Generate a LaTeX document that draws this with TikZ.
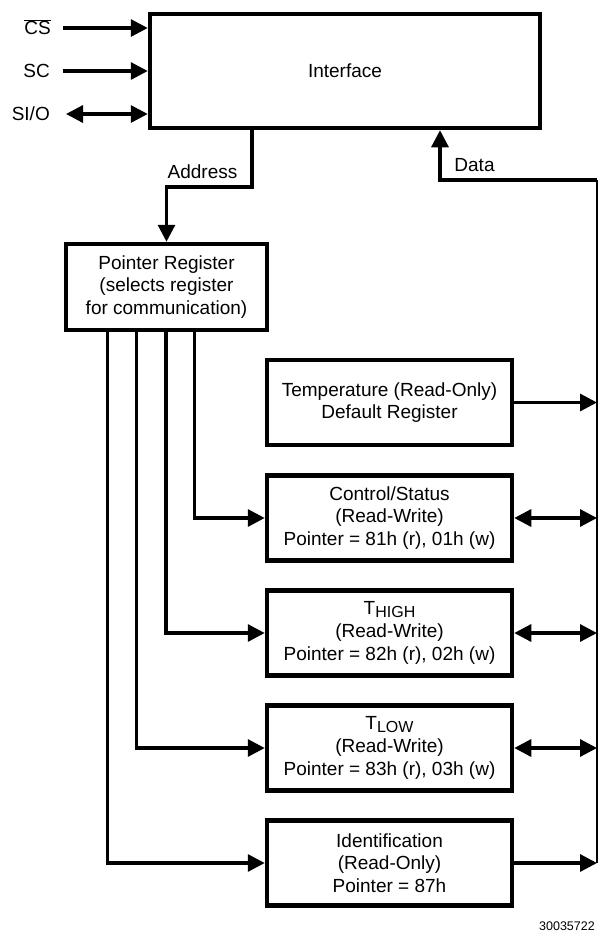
\documentclass[tikz,border=0pt]{standalone}
\usepackage{fontspec}
\setmainfont{Liberation Sans}
\usetikzlibrary{arrows.meta}
\begin{document}
\begin{tikzpicture}[x=1pt,y=-1pt,
  every node/.style={font=\fontsize{19}{22.7}\selectfont},
  blk/.style={draw,line width=4.5pt,inner sep=0pt,align=center,minimum width=245pt,minimum height=85pt},
  conn/.style={line width=3.2pt},
  bus/.style={line width=2.2pt},
  tip/.style={-{Triangle[length=17pt,width=17pt]}},
  dtip/.style={{Triangle[length=17pt,width=17pt]}-{Triangle[length=17pt,width=17pt]}},
  lbl/.style={inner sep=0pt}]
\useasboundingbox (0,0) rectangle (598,935);

% Interface
\node[blk,minimum width=390pt,minimum height=114pt] (iface) at (345,71) {Interface};

% Input labels
\node[lbl,anchor=base east] (cs) at (51,34.8) {$\overline{\hbox{CS}}$};
\node[lbl,anchor=base east] (sc) at (50,77.8) {SC};
\node[lbl,anchor=base east] (sio) at (50,120.8) {SI/O};
\coordinate (csS) at (63,28);
\coordinate (scS) at (63,71);
\coordinate (sioS) at (66,114);
\draw[conn,tip] (csS) -- (csS -| iface.west);
\draw[conn,tip] (scS) -- (scS -| iface.west);
\draw[conn,dtip] (sioS) -- (sioS -| iface.west);

% Pointer register
\node[blk,minimum width=201pt,minimum height=86pt] (ptr) at (166.5,287)
  {Pointer Register\\(selects register\\for communication)};

% Address
\coordinate (addr) at (166.5,187);
\node[lbl] (addrlbl) at (202.5,172) {Address};
\draw[conn,tip] ([xshift=-93pt]iface.south) |- (addr) -- (ptr.north);

% Registers
\node[blk] (temp) at (389.5,402.5) {Temperature (Read-Only)\\Default Register};
\node[blk] (ctrl) at (389.5,518) {Control/Status\\(Read-Write)\\Pointer = 81h (r), 01h (w)};
\node[blk] (thigh) at (389.5,633) {T\raisebox{-3pt}{\fontsize{16}{16}\selectfont HIGH}\\(Read-Write)\\Pointer = 82h (r), 02h (w)};
\node[blk] (tlow) at (389.5,748) {T\raisebox{-3pt}{\fontsize{16}{16}\selectfont LOW}\\(Read-Write)\\Pointer = 83h (r), 03h (w)};
\node[blk] (ident) at (389.5,863) {Identification\\(Read-Only)\\Pointer = 87h};

% Pointer branches
\draw[conn,tip] ([xshift=28pt]ptr.south) |- (ctrl.west);
\draw[conn,tip] ([xshift=-0.5pt]ptr.south) |- (thigh.west);
\draw[conn,tip] ([xshift=-30pt]ptr.south) |- (tlow.west);
\draw[conn,tip] ([xshift=-59pt]ptr.south) |- (ident.west);

% Data bus
\coordinate (dj) at (597,180);
\coordinate (busend) at (597,863);
\node[lbl] (datalbl) at (474.5,165) {Data};
\draw[conn,tip] (dj) -| ([xshift=95pt]iface.south);
\draw[bus] (dj) -- (busend);
\draw[conn,tip] (temp.east) -- (temp.east -| dj);
\draw[conn,dtip] (ctrl.east) -- (ctrl.east -| dj);
\draw[conn,dtip] (thigh.east) -- (thigh.east -| dj);
\draw[conn,dtip] (tlow.east) -- (tlow.east -| dj);
\draw[conn,tip] (ident.east) -- (ident.east -| dj);

% Figure number
\node[lbl,anchor=east,font=\fontsize{12.5}{14}\selectfont] (fignum) at (595,926) {30035722};
\end{tikzpicture}
\end{document}
